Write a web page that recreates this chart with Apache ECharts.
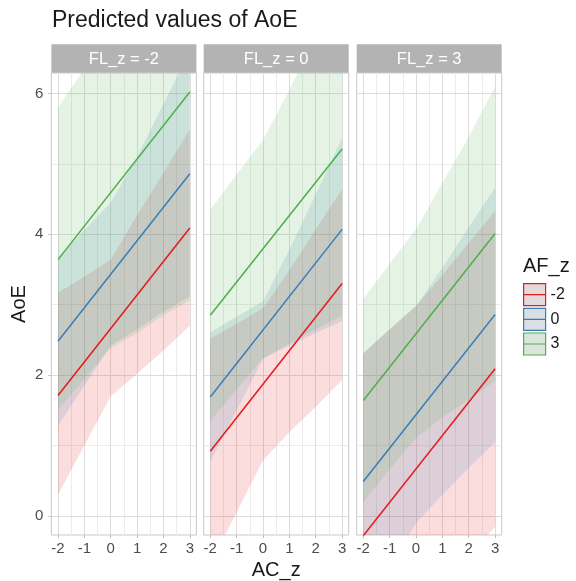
<!DOCTYPE html>
<html>
<head>
<meta charset="utf-8">
<script src="https://cdn.jsdelivr.net/npm/echarts@6/dist/echarts.min.js"></script>
<style>
  html, body { margin: 0; padding: 0; background: #fff; }
  #chart { width: 576px; height: 581px; }
</style>
</head>
<body>
<div id="chart"></div>
<script>
// facets (FL_z) and groups (AF_z)
const panels = ['FL_z = -2', 'FL_z = 0', 'FL_z = 3'];
const groups = ['-2', '0', '3'];
const colors = ['#E41A1C', '#377EB8', '#4DAF4A'];
const bandFill = ['rgba(228,26,28,0.15)', 'rgba(55,126,184,0.15)', 'rgba(77,175,74,0.15)'];
const keyFill = ['#e3dadb', '#d9dfe4', '#dce5db'];

// x positions
const acX = [-2, -1, 0, 1, 2, 3];
const lineX = [-2, 3];
const acTicks = [-2, -1, 0, 1, 2, 3];
const acMinor = [-1.5, -0.5, 0.5, 1.5, 2.5];
const aoeTicks = [0, 2, 4, 6];
const aoeMinor = [1, 3, 5];

// predicted lines (AF_z -2, 0, 3), values at AC_z = -2 and 3
const fitFLm2 = [[1.71, 4.09], [2.48, 4.86], [3.64, 6.02]];
const fitFL0 = [[0.92, 3.30], [1.69, 4.07], [2.85, 5.21]];
const fitFL3 = [[-0.28, 2.09], [0.49, 2.86], [1.64, 4.01]];

// confidence bands, at acX
const loFLm2 = [[0.30, 1.00, 1.70, 2.02, 2.35, 2.70], [1.28, 1.85, 2.42, 2.65, 2.90, 3.12], [1.50, 1.95, 2.38, 2.60, 2.85, 3.06]];
const hiFLm2 = [[3.17, 3.40, 3.64, 4.27, 4.87, 5.49], [3.67, 4.06, 4.45, 5.10, 5.85, 6.60], [5.80, 6.35, 6.80, 7.40, 8.10, 8.98]];
const loFL0 = [[-0.68, 0.05, 0.79, 1.19, 1.55, 1.93], [0.77, 1.50, 2.23, 2.42, 2.60, 2.77], [1.35, 1.80, 2.24, 2.45, 2.65, 2.85]];
const hiFL0 = [[2.52, 2.73, 2.95, 3.49, 4.07, 4.64], [2.61, 2.83, 3.05, 3.78, 4.57, 5.37], [4.35, 4.85, 5.34, 6.05, 6.80, 7.57]];
const loFL3 = [[-2.90, -2.30, -1.64, -1.10, -0.60, -0.15], [-1.33, -0.70, -0.10, 0.30, 0.68, 1.05], [0.20, 0.66, 1.11, 1.40, 1.65, 1.92]];
const hiFL3 = [[2.31, 2.65, 2.98, 3.42, 3.88, 4.33], [2.31, 2.65, 2.98, 3.52, 4.10, 4.66], [3.08, 3.58, 4.07, 4.73, 5.38, 6.10]];

const fits = [fitFLm2, fitFL0, fitFL3];
const lows = [loFLm2, loFL0, loFL3];
const highs = [hiFLm2, hiFL0, hiFL3];

const font = 'Liberation Sans, Arial, sans-serif';
const gridLeft = [51.4, 203.7, 356.7];
const gridW = 145;
const gridTop = 73;
const gridH = 462;

// clip a polygon (pixel coords) to the panel rectangle
function clipToRect(pts, r) {
  const x0 = r.x, x1 = r.x + r.width, y0 = r.y, y1 = r.y + r.height;
  const edges = [
    [p => p[0] >= x0, (a, b) => [x0, a[1] + (x0 - a[0]) / (b[0] - a[0]) * (b[1] - a[1])]],
    [p => p[0] <= x1, (a, b) => [x1, a[1] + (x1 - a[0]) / (b[0] - a[0]) * (b[1] - a[1])]],
    [p => p[1] >= y0, (a, b) => [a[0] + (y0 - a[1]) / (b[1] - a[1]) * (b[0] - a[0]), y0]],
    [p => p[1] <= y1, (a, b) => [a[0] + (y1 - a[1]) / (b[1] - a[1]) * (b[0] - a[0]), y1]]
  ];
  let out = pts;
  edges.forEach(([inside, cross]) => {
    const input = out;
    out = [];
    for (let i = 0; i < input.length; i++) {
      const cur = input[i], prev = input[(i + input.length - 1) % input.length];
      if (inside(cur)) {
        if (!inside(prev)) out.push(cross(prev, cur));
        out.push(cur);
      } else if (inside(prev)) {
        out.push(cross(prev, cur));
      }
    }
  });
  return out;
}

function ribbonRenderer(fill) {
  return function (params, api) {
    if (params.dataIndexInside !== 0) return;
    const n = params.dataInsideLength;
    const lower = [], upper = [];
    for (let i = 0; i < n; i++) {
      lower.push(api.coord([api.value(0, i), api.value(1, i)]));
      upper.push(api.coord([api.value(0, i), api.value(2, i)]));
    }
    const pts = clipToRect(lower.concat(upper.reverse()), params.coordSys);
    return { type: 'polygon', shape: { points: pts }, style: { fill: fill }, silent: true };
  };
}

const chart = echarts.init(document.getElementById('chart'));

const grids = [], xAxes = [], yAxes = [], series = [], strips = [];

gridLeft.forEach((left, p) => {
  grids.push({
    left: left, top: gridTop, width: gridW, height: gridH,
    outerBoundsMode: 'none', containLabel: false,
    show: true, borderColor: '#c9c9c9', borderWidth: 1
  });
  xAxes.push({
    type: 'value', gridIndex: p, min: -2.25, max: 3.25,
    name: p === 1 ? 'AC_z' : '', nameLocation: 'middle', nameGap: 19,
    nameTextStyle: { fontSize: 20, color: '#1a1a1a', fontFamily: font },
    axisLine: { show: false, onZero: false },
    splitLine: { show: false },
    axisTick: { show: true, length: 3, customValues: acTicks, lineStyle: { color: '#bdbdbd' } },
    axisLabel: { customValues: acTicks, fontSize: 15, color: '#4d4d4d', margin: 6, fontFamily: font }
  });
  yAxes.push({
    type: 'value', gridIndex: p, min: -0.27, max: 6.29,
    name: p === 0 ? 'AoE' : '', nameLocation: 'middle', nameGap: 22,
    nameTextStyle: { fontSize: 20, color: '#1a1a1a', fontFamily: font },
    axisLine: { show: false, onZero: false },
    splitLine: { show: false },
    axisTick: { show: p === 0, length: 3, customValues: aoeTicks, lineStyle: { color: '#bdbdbd' } },
    axisLabel: { show: p === 0, customValues: aoeTicks, fontSize: 15, color: '#4d4d4d', margin: 8, fontFamily: font }
  });

  // grid lines
  const major = { color: '#dcdcdc', width: 1, type: 'solid' };
  const minor = { color: '#ececec', width: 1, type: 'solid' };
  series.push({
    type: 'line', xAxisIndex: p, yAxisIndex: p, data: [], silent: true, z: 1,
    markLine: {
      silent: true, symbol: 'none', label: { show: false }, animation: false, z: 1,
      data: [].concat(
        acMinor.map(v => ({ xAxis: v, lineStyle: minor })),
        aoeMinor.map(v => ({ yAxis: v, lineStyle: minor })),
        acTicks.map(v => ({ xAxis: v, lineStyle: major })),
        aoeTicks.map(v => ({ yAxis: v, lineStyle: major }))
      )
    }
  });

  // ribbons
  groups.forEach((g, k) => {
    const lo = lows[p][k], hi = highs[p][k];
    series.push({
      type: 'custom', xAxisIndex: p, yAxisIndex: p, z: 3, silent: true,
      encode: { x: 0, y: [1, 2] },
      data: acX.map((x, i) => [x, lo[i], hi[i]]),
      renderItem: ribbonRenderer(bandFill[k])
    });
  });

  // predicted lines
  groups.forEach((g, k) => {
    series.push({
      name: g, type: 'line', xAxisIndex: p, yAxisIndex: p,
      data: lineX.map((x, i) => [x, fits[p][k][i]]),
      symbol: 'none', color: colors[k], lineStyle: { width: 1.5, color: colors[k] }, z: 4
    });
  });

  // facet strip
  strips.push({
    type: 'group',
    children: [
      { type: 'rect', shape: { x: left, y: 44.3, width: gridW, height: 28.4 }, style: { fill: '#b3b3b3' } },
      { type: 'text', style: { text: panels[p], x: left + gridW / 2, y: 59, fill: '#ffffff',
          fontSize: 16.5, fontFamily: font, align: 'center', verticalAlign: 'middle' } }
    ]
  });
});

chart.setOption({
  animation: false,
  backgroundColor: '#ffffff',
  title: [
    { text: 'Predicted values of AoE', left: 52, top: 9, padding: 0,
      textStyle: { fontSize: 23, fontWeight: 'normal', color: '#1a1a1a', fontFamily: font } },
    { text: 'AF_z', left: 523, top: 256, padding: 0,
      textStyle: { fontSize: 20, fontWeight: 'normal', color: '#1a1a1a', fontFamily: font } }
  ],
  legend: {
    orient: 'vertical', left: 523, top: 283, padding: 0,
    itemWidth: 22, itemHeight: 22, itemGap: 1.5,
    selectedMode: false,
    textStyle: { fontSize: 16, color: '#1a1a1a', fontFamily: font },
    data: groups.map((g, k) => ({
      name: g,
      icon: 'path://M0,0H22V22H0Z M0,11H22',
      itemStyle: { color: keyFill[k], borderColor: colors[k], borderWidth: 1.2 }
    }))
  },
  grid: grids,
  xAxis: xAxes,
  yAxis: yAxes,
  series: series,
  graphic: strips
});
</script>
</body>
</html>
